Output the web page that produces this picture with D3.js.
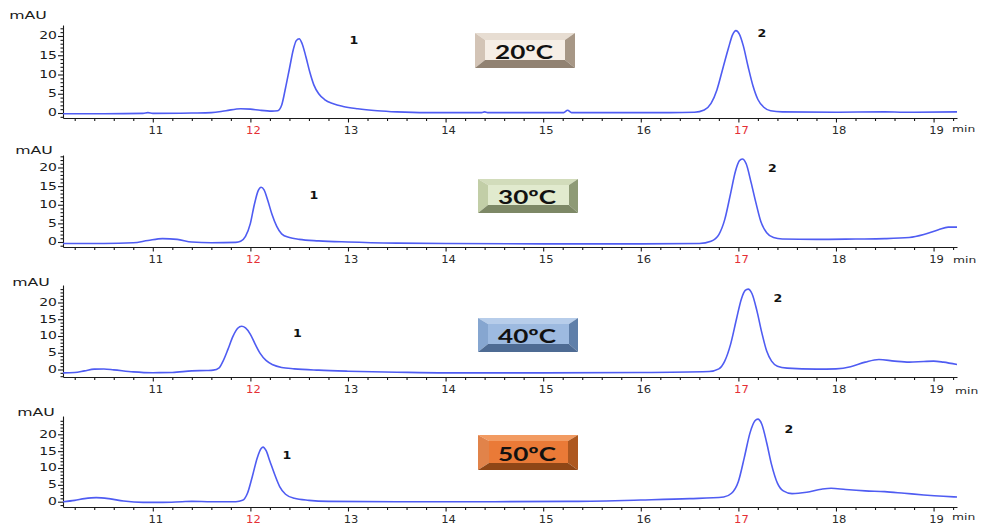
<!DOCTYPE html>
<html>
<head>
<meta charset="utf-8">
<script src="https://cdn.jsdelivr.net/npm/d3@7/dist/d3.min.js"></script>
<style>
  html, body { margin: 0; padding: 0; background: #fff; }
  svg { display: block; }
</style>
</head>
<body>
<svg id="chart" width="982" height="524"></svg>
<script>
// Retention time axis (min)
const xMajorTicks = [11, 12, 13, 14, 15, 16, 17, 18, 19];
const xRedTicks = [12, 17];
const yMajorTicks = [0, 5, 10, 15, 20];

const temperatures = ["20ºC", "30ºC", "40ºC", "50ºC"];
const peakNames = ["1", "2"];

// Chromatogram traces [time (min), absorbance (mAU)]
const trace20 = [
  [10.08,-0.2],[10.5,-0.2],[10.9,-0.1],[10.95,0.1],[11.0,-0.1],[11.4,0.0],[11.6,0.1],
  [11.75,0.6],[11.9,1.1],[12.0,1.0],[12.1,0.7],[12.22,0.5],[12.28,0.6],[12.32,2.0],
  [12.36,6.5],[12.40,11.5],[12.44,16.5],[12.47,18.8],[12.50,19.3],[12.53,18.0],
  [12.57,14.5],[12.61,10.5],[12.65,7.3],[12.70,5.0],[12.76,3.5],[12.85,2.4],
  [12.95,1.7],[13.1,1.1],[13.3,0.6],[13.5,0.3],[13.8,0.1],[14.37,0.1],[14.4,0.3],
  [14.43,0.1],[15.0,0.1],[15.21,0.1],[15.25,0.7],[15.29,0.1],[15.6,0.1],[16.3,0.1],
  [16.55,0.2],[16.65,0.8],[16.72,2.5],[16.78,6.0],[16.84,11.5],[16.90,17.0],
  [16.94,20.3],[16.975,21.4],[17.01,20.5],[17.05,17.5],[17.10,12.0],[17.15,7.0],
  [17.20,3.5],[17.26,1.5],[17.33,0.6],[17.45,0.3],[18.0,0.2],[18.5,0.3],[18.7,0.2],
  [19.24,0.3]
];
const trace30 = [
  [10.08,-0.4],[10.5,-0.4],[10.8,-0.2],[10.95,0.4],[11.1,0.9],[11.25,0.7],[11.4,0.0],
  [11.6,-0.2],[11.85,-0.1],[11.9,0.2],[11.95,1.5],[12.0,5.0],[12.04,10.0],[12.08,13.8],
  [12.11,14.7],[12.14,14.0],[12.18,11.0],[12.22,7.5],[12.27,4.2],[12.32,2.2],
  [12.4,1.2],[12.5,0.7],[12.7,0.3],[13.0,0.0],[13.5,-0.3],[14.0,-0.4],[15.0,-0.5],
  [16.0,-0.5],[16.6,-0.4],[16.72,0.2],[16.8,2.0],[16.86,6.0],[16.92,13.0],[16.97,19.0],
  [17.01,21.8],[17.04,22.3],[17.08,21.0],[17.13,16.0],[17.18,10.5],[17.23,5.5],
  [17.29,2.5],[17.36,1.2],[17.45,0.8],[17.8,0.7],[18.2,0.8],[18.5,0.9],[18.75,1.2],
  [18.9,2.0],[19.05,3.3],[19.15,4.0],[19.24,4.0]
];
const trace40 = [
  [10.08,-1.0],[10.2,-0.9],[10.3,-0.4],[10.4,0.1],[10.5,0.15],[10.6,-0.1],[10.8,-0.7],
  [11.0,-0.95],[11.2,-0.9],[11.4,-0.4],[11.55,-0.3],[11.62,-0.2],[11.68,0.5],
  [11.72,2.5],[11.77,6.0],[11.82,9.8],[11.87,12.3],[11.91,12.9],[11.95,12.4],
  [12.0,10.5],[12.05,7.5],[12.1,4.8],[12.16,2.7],[12.23,1.4],[12.32,0.6],[12.45,0.2],
  [12.7,-0.2],[13.0,-0.5],[13.5,-0.8],[14.0,-1.0],[15.0,-1.0],[16.0,-0.9],[16.7,-0.6],
  [16.8,0.2],[16.86,2.5],[16.92,7.5],[16.98,15.0],[17.03,21.0],[17.07,23.6],
  [17.10,24.0],[17.14,22.6],[17.19,17.5],[17.24,11.0],[17.29,5.5],[17.34,2.5],
  [17.4,1.0],[17.5,0.4],[17.8,0.1],[18.0,0.2],[18.15,0.8],[18.3,2.2],[18.44,3.0],
  [18.6,2.5],[18.75,2.2],[18.9,2.4],[19.0,2.5],[19.1,2.2],[19.24,1.5]
];
const trace50 = [
  [10.08,0.0],[10.2,0.4],[10.3,0.9],[10.42,1.2],[10.55,0.9],[10.7,0.2],[10.9,-0.2],
  [11.1,-0.2],[11.3,0.0],[11.4,0.1],[11.6,0.0],[11.85,0.0],[11.92,0.4],[11.97,2.5],
  [12.02,7.5],[12.07,13.0],[12.11,15.8],[12.13,16.2],[12.16,15.2],[12.2,12.0],
  [12.25,8.0],[12.3,4.5],[12.36,2.2],[12.45,1.0],[12.6,0.4],[12.8,0.1],[13.5,0.0],
  [14.5,0.0],[15.3,0.1],[16.0,0.5],[16.5,0.9],[16.85,1.4],[16.93,2.5],[17.0,6.0],
  [17.06,13.0],[17.12,20.5],[17.17,24.0],[17.2,24.5],[17.24,23.0],[17.29,17.5],
  [17.34,11.0],[17.4,5.5],[17.46,3.2],[17.55,2.4],[17.7,2.8],[17.85,3.7],[17.95,4.0],
  [18.1,3.6],[18.3,3.2],[18.5,3.0],[18.7,2.5],[18.9,2.0],[19.1,1.6],[19.24,1.4]
];
const traces = [trace20, trace30, trace40, trace50];

// Panel geometry: pixel rows of the axis top, x-axis, zero and 20 mAU lines
const panels = [
  { top: 25,  axisY: 118, zero: 113,   twenty: 36,
    mau: [28, 15],  minPos: [952, 129],
    peaks: [[354, 40], [762, 33]],
    box: { x: 475, y: 33, w: 100, h: 35, l: 10, r: 10, t: 7, b: 8,
      face: "#f6eee6", top: "#e7ddd2", left: "#d3c4b6", right: "#a79786", bottom: "#918272" } },
  { top: 155, axisY: 247, zero: 242,   twenty: 167.5,
    mau: [34, 150], minPos: [953, 260],
    peaks: [[314, 195.5], [772.5, 168.5]],
    box: { x: 478, y: 179, w: 100, h: 34, l: 10, r: 9, t: 6, b: 8,
      face: "#e1eace", top: "#d2dcbb", left: "#c2cea7", right: "#8e9a76", bottom: "#7d8866" } },
  { top: 285, axisY: 377, zero: 369.5, twenty: 302.5,
    mau: [31, 282], minPos: [955, 391],
    peaks: [[297.5, 333], [778, 298]],
    box: { x: 478, y: 318, w: 100, h: 34, l: 10, r: 9, t: 6, b: 8,
      face: "#9dbae0", top: "#b7cdea", left: "#86a6d0", right: "#5f7fa9", bottom: "#4e6b93" } },
  { top: 416, axisY: 507, zero: 501.7, twenty: 434.3,
    mau: [36, 412], minPos: [952, 517],
    peaks: [[287, 455.5], [789, 429]],
    box: { x: 478, y: 435, w: 100, h: 35, l: 11, r: 10, t: 6, b: 7,
      face: "#ea7a37", top: "#f29b62", left: "#e1834a", right: "#ad5820", bottom: "#8f4616" } }
];

const svg = d3.select("#chart");
const x = d3.scaleLinear().domain([10.08, 19.24]).range([63, 957]);

const axisColor = "#1a1a1a";
const lineColor = "#4f5cf2";

// Text drawn with a horizontal stretch
function wideText(g, px, py, str, opt) {
  return g.append("text")
    .attr("transform", `translate(${px},${py}) scale(${opt.sx || 1},1)`)
    .attr("text-anchor", opt.anchor || "middle")
    .attr("dominant-baseline", "central")
    .attr("font-family", opt.family || "DejaVu Sans, Verdana, sans-serif")
    .attr("font-size", opt.size)
    .attr("font-weight", opt.weight || "normal")
    .attr("fill", opt.fill || "#1a1a1a")
    .text(str);
}

panels.forEach((p, i) => {
  const g = svg.append("g");
  const ppu = (p.zero - p.twenty) / 20;
  const yMin = -(p.axisY - p.zero) / ppu;
  const yMax = (p.zero - p.top) / ppu;
  const y = d3.scaleLinear().domain([yMin, yMax]).range([p.axisY, p.top]);

  // x axis: minor ticks every 0.2 min, majors every minute
  const minorX = d3.range(10.2, 19.21, 0.2).filter(v => Math.abs(v - Math.round(v)) > 0.01);
  g.append("g").attr("transform", `translate(0,${p.axisY})`)
    .call(d3.axisBottom(x).tickValues(minorX).tickSize(3).tickSizeOuter(0).tickFormat(""))
    .call(a => a.selectAll("line,path").attr("stroke", axisColor).attr("stroke-width", 1.1));
  g.append("g").attr("transform", `translate(0,${p.axisY})`)
    .call(d3.axisBottom(x).tickValues(xMajorTicks).tickSize(4.5).tickSizeOuter(0).tickFormat(""))
    .call(a => a.select(".domain").remove())
    .call(a => a.selectAll("line").attr("stroke", axisColor).attr("stroke-width", 1.1));
  xMajorTicks.forEach(t => {
    wideText(g, x(t) + 3, p.axisY + 12.5, String(t), {
      size: 9.6, sx: 1.2, fill: xRedTicks.includes(t) ? "#e52f35" : "#2a2a2a"
    });
  });
  wideText(g, p.minPos[0], p.minPos[1], "min", { size: 9.5, sx: 1.3, anchor: "start", fill: "#2a2a2a" });

  // y axis: minor ticks every 1 mAU, labelled majors every 5 mAU
  const minorY = d3.range(Math.ceil(yMin), Math.floor(yMax) + 1).filter(v => v % 5 !== 0);
  g.append("g").attr("transform", `translate(63,0)`)
    .call(d3.axisLeft(y).tickValues(minorY).tickSize(2.5).tickSizeOuter(0).tickFormat(""))
    .call(a => a.selectAll("line,path").attr("stroke", axisColor).attr("stroke-width", 1.1));
  g.append("g").attr("transform", `translate(63,0)`)
    .call(d3.axisLeft(y).tickValues(yMajorTicks).tickSize(5).tickSizeOuter(0).tickFormat(""))
    .call(a => a.select(".domain").remove())
    .call(a => a.selectAll("line").attr("stroke", axisColor).attr("stroke-width", 1.1));
  yMajorTicks.forEach(v => {
    wideText(g, 57, y(v), String(v), { size: 10.5, sx: 1.33, anchor: "end", fill: "#1a1a1a" });
  });
  wideText(g, p.mau[0], p.mau[1], "mAU", { size: 10.5, sx: 1.5, fill: "#1a1a1a" });

  // Trace
  const line = d3.line().x(d => x(d[0])).y(d => y(d[1])).curve(d3.curveMonotoneX);
  g.append("path").datum(traces[i])
    .attr("d", line)
    .attr("fill", "none")
    .attr("stroke", lineColor)
    .attr("stroke-width", 1.6)
    .attr("stroke-linejoin", "round");

  // Peak numbers
  p.peaks.forEach((pos, k) => {
    wideText(g, pos[0], pos[1], peakNames[k], { size: 10.5, sx: 1.2, weight: "bold", fill: "#111" });
  });

  // Bevelled temperature label
  const b = p.box;
  const x0 = b.x, y0 = b.y, x1 = b.x + b.w, y1 = b.y + b.h;
  const fx0 = x0 + b.l, fy0 = y0 + b.t, fx1 = x1 - b.r, fy1 = y1 - b.b;
  const poly = (pts, fill) => g.append("polygon")
    .attr("points", pts.map(q => q.join(",")).join(" ")).attr("fill", fill);
  poly([[x0, y0], [x1, y0], [fx1, fy0], [fx0, fy0]], b.top);
  poly([[x0, y0], [fx0, fy0], [fx0, fy1], [x0, y1]], b.left);
  poly([[x1, y0], [x1, y1], [fx1, fy1], [fx1, fy0]], b.right);
  poly([[x0, y1], [fx0, fy1], [fx1, fy1], [x1, y1]], b.bottom);
  g.append("rect").attr("x", fx0).attr("y", fy0)
    .attr("width", fx1 - fx0).attr("height", fy1 - fy0).attr("fill", b.face);
  g.append("text")
    .attr("x", (x0 + x1) / 2 - 1).attr("y", (y0 + y1) / 2 + 0.5)
    .attr("text-anchor", "middle").attr("dominant-baseline", "central")
    .attr("font-family", "Lato, 'Open Sans', sans-serif")
    .attr("font-weight", "bold").attr("font-size", 19)
    .attr("textLength", 58).attr("lengthAdjust", "spacingAndGlyphs")
    .attr("fill", "#111")
    .text(temperatures[i]);
});
</script>
</body>
</html>
